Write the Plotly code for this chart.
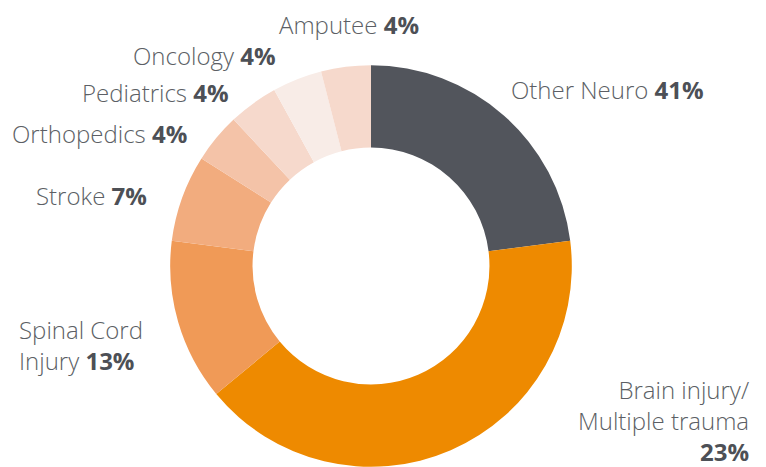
import plotly.graph_objects as go

# slice order clockwise from 12 o'clock
categories = ["Other Neuro", "Brain injury/Multiple trauma", "Spinal Cord Injury", "Stroke",
              "Orthopedics", "Pediatrics", "Oncology", "Amputee"]
slice_values = [23, 41, 13, 7, 4, 4, 4, 4]
# percentages as printed next to each slice
label_pct = [41, 23, 13, 7, 4, 4, 4, 4]
label_names = ["Other Neuro", "Brain injury/<br>Multiple trauma<br>", "Spinal Cord<br>Injury", "Stroke",
               "Orthopedics", "Pediatrics", "Oncology", "Amputee"]

colors = ["#52555c", "#ee8a00", "#f09a57", "#f2ac7e", "#f4c3a8", "#f6d9cc", "#f8ece7", "#f6d9cc"]

# the page body adds an 8px margin, so work in window pixels and shift back
OFF = 8
W, H = 766 - OFF, 467 - OFF
cx, cy, r = 371 - OFF, 266 - OFF, 200.8

fig = go.Figure(go.Pie(
    labels=categories,
    values=slice_values,
    sort=False,
    direction="clockwise",
    rotation=0,
    hole=0.59,
    marker=dict(colors=colors, line=dict(width=0)),
    textinfo="none",
    hoverinfo="label+percent",
    showlegend=False,
    domain=dict(x=[(cx - r) / W, (cx + r) / W], y=[max(0, 1 - (cy + r) / H), 1 - (cy - r) / H]),
))

# label placement (window pixels): x, y, xanchor, align
label_pos = [
    (510, 89, "left", "left"),
    (750, 420, "right", "right"),
    (18, 345, "left", "left"),
    (35, 195, "left", "left"),
    (11, 133, "left", "left"),
    (81, 93, "left", "left"),
    (132, 55, "left", "left"),
    (278, 24, "left", "left"),
]

for name, pct, (px, py, xa, al) in zip(label_names, label_pct, label_pos):
    fig.add_annotation(
        x=(px - OFF) / W, y=1 - (py - OFF) / H, xref="paper", yref="paper",
        xanchor=xa, yanchor="middle", align=al, showarrow=False, borderpad=0,
        text=f"{name} <b style='color:#4d5056'>{pct}%</b>",
        font=dict(family="Open Sans", size=24, color="#5c5f65", weight=300),
    )

fig.update_layout(
    width=W, height=H,
    margin=dict(l=0, r=0, t=0, b=0),
    paper_bgcolor="white",
    plot_bgcolor="white",
)

fig.write_html("out.html")
